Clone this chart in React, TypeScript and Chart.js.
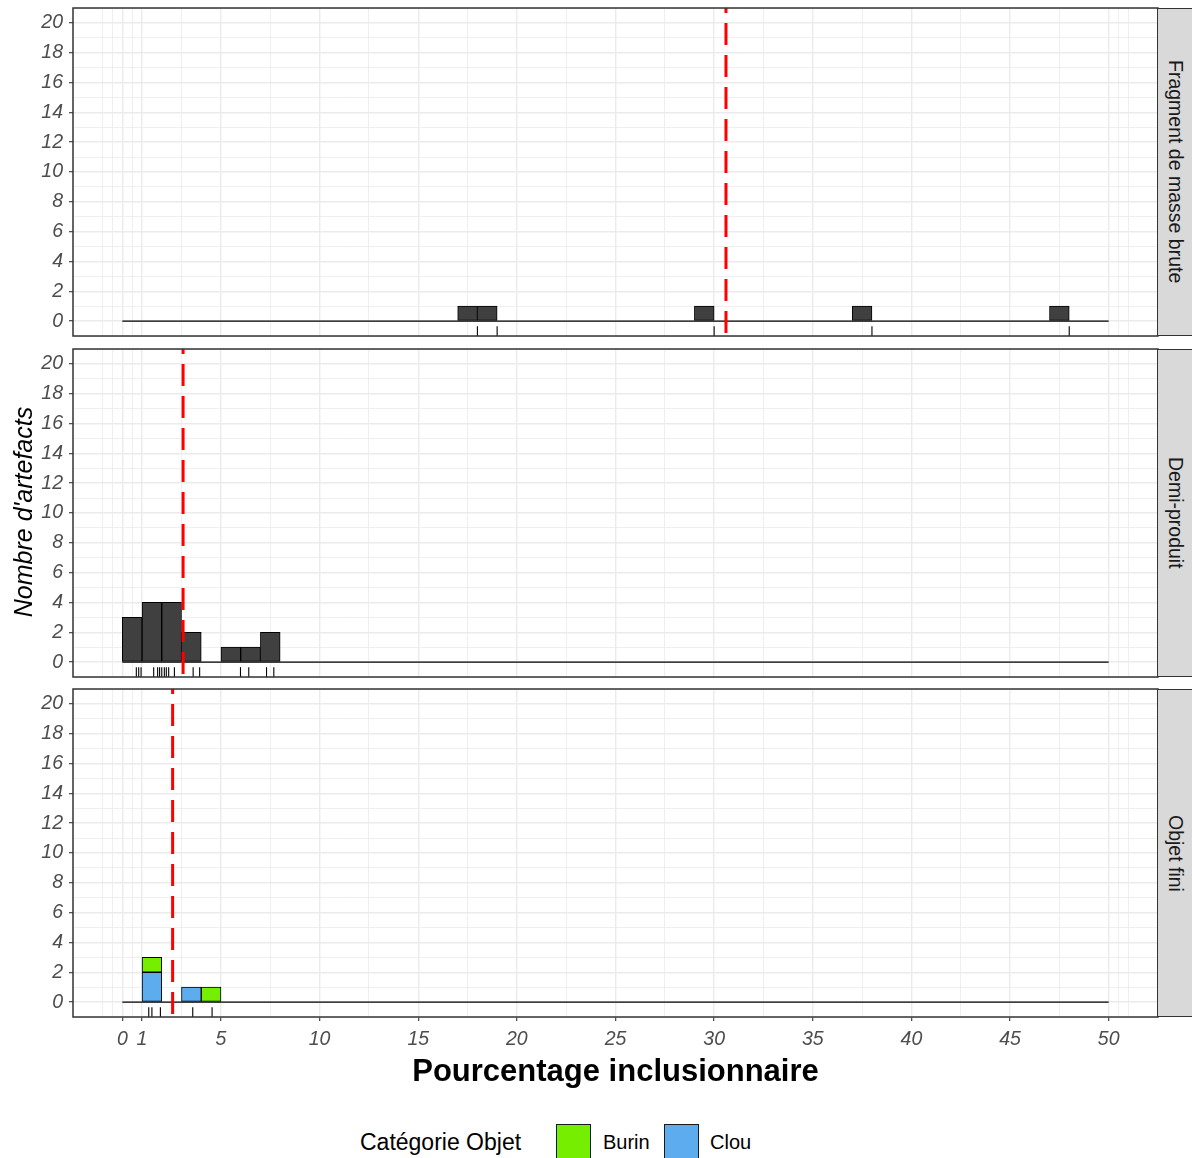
import React, { useEffect, useRef } from "react";
import { Chart, registerables } from "chart.js";

Chart.register(...registerables);

const FONT = "'Liberation Sans', Arial, Helvetica, sans-serif";

// ---- axis breaks / tick labels ----
const xMajorBreaks = [0, 1, 5, 10, 15, 20, 25, 30, 35, 40, 45, 50];
const xMinorBreaks = [-1, -0.5, 0.5, 3, 7.5, 12.5, 17.5, 22.5, 27.5, 32.5, 37.5, 42.5, 47.5, 50.5, 51];
const yMajorBreaks = [0, 2, 4, 6, 8, 10, 12, 14, 16, 18, 20];
const yMinorBreaks = [-1, 1, 3, 5, 7, 9, 11, 13, 15, 17, 19, 21];

const panelNames = ["Fragment de masse brute", "Demi-produit", "Objet fini"];
const legendCategories = ["Burin", "Clou"];

// ---- histogram settings ----
const BIN_WIDTH = 1;
const HIST_RANGE = [0, 50];

// ---- Fragment de masse brute ----
const fragmentBinStarts = [17, 18, 29, 37, 47];
const fragmentCounts = [1, 1, 1, 1, 1];
const fragmentValues = [18, 19, 30, 38, 48];

// ---- Demi-produit ----
const demiBinStarts = [0, 1, 2, 3, 5, 6, 7];
const demiCounts = [3, 4, 4, 2, 1, 1, 2];
const demiValues = [0.71, 0.83, 0.95, 1.59, 1.79, 1.89, 2.0, 2.13, 2.23, 2.35, 2.64, 3.59, 3.92, 5.99, 6.41, 7.31, 7.68];

// ---- Objet fini ----
const clouBinStarts = [1, 3];
const clouCounts = [2, 1];
const burinBinStarts = [1, 4];
const burinCounts = [1, 1];
const objetValues = [1.34, 1.5, 1.93, 3.57, 4.55];

// ---- mean (red dashed) lines, one per panel ----
const meanLines = [30.6, 3.08, 2.55];

const COLOR_DARK = "#404040";
const COLOR_BURIN = "#76EE00";
const COLOR_CLOU = "#5CACEE";

const X_MIN = -2.5;
const X_MAX = 52.5;
const Y_MIN = -1;
const Y_MAX = 21;
const RUG_FRACTION = 0.03;

const xMajorSet = new Set(xMajorBreaks);
const yMajorSet = new Set(yMajorBreaks);

type BarSeries = { label: string; bins: number[]; counts: number[]; color: string };

const panelSpecs: { bars: BarSeries[]; rug: number[]; mean: number }[] = [
  { bars: [{ label: "Fragment", bins: fragmentBinStarts, counts: fragmentCounts, color: COLOR_DARK }], rug: fragmentValues, mean: meanLines[0] },
  { bars: [{ label: "Demi", bins: demiBinStarts, counts: demiCounts, color: COLOR_DARK }], rug: demiValues, mean: meanLines[1] },
  {
    bars: [
      { label: "Clou", bins: clouBinStarts, counts: clouCounts, color: COLOR_CLOU },
      { label: "Burin", bins: burinBinStarts, counts: burinCounts, color: COLOR_BURIN },
    ],
    rug: objetValues,
    mean: meanLines[2],
  },
];

const panelBorder = {
  id: "panelBorder",
  afterDraw(chart: any) {
    const { ctx, chartArea: a } = chart;
    ctx.save();
    ctx.strokeStyle = "#333333";
    ctx.lineWidth = 1.5;
    ctx.strokeRect(a.left, a.top, a.right - a.left, a.bottom - a.top);
    ctx.restore();
  },
};

const PANELS = [
  { top: 8, bottom: 336 },
  { top: 349, bottom: 677 },
  { top: 689, bottom: 1017 },
];
const PANEL_LEFT = 73;
const PANEL_RIGHT = 1158;
const PAD = 10;
const X_AXIS_H = 50;
const CANVAS_W = PANEL_RIGHT + PAD;

const zeroPadding = (s: any) => {
  s.paddingTop = 0;
  s.paddingBottom = 0;
  s.paddingLeft = 0;
  s.paddingRight = 0;
};

function Panel({ index }: { index: number }) {
  const ref = useRef<HTMLCanvasElement>(null);
  const showX = index === PANELS.length - 1;
  const p = PANELS[index];
  const h = PAD + (p.bottom - p.top) + (showX ? X_AXIS_H : PAD);

  useEffect(() => {
    const spec = panelSpecs[index];
    const rugY = Y_MIN + (RUG_FRACTION * (Y_MAX - Y_MIN)) / 2;
    const datasets: any[] = [];
    datasets.push({
      type: "line",
      label: "mean",
      data: [
        { x: spec.mean, y: Y_MIN },
        { x: spec.mean, y: Y_MAX },
      ],
      borderColor: "#FF0000",
      borderWidth: 3,
      borderDash: [22, 10],
      borderDashOffset: 29,
      pointRadius: 0,
      xAxisID: "x",
      yAxisID: "y",
      order: 0,
      stack: "mean",
    });
    datasets.push({
      type: "scatter",
      label: "rug",
      data: spec.rug.map((v) => ({ x: v, y: rugY })),
      pointStyle: "line",
      pointRotation: 90,
      pointRadius: 4.9,
      pointHoverRadius: 4.9,
      pointBorderWidth: 1.1,
      pointBorderColor: "#000000",
      pointBackgroundColor: "#000000",
      showLine: false,
      xAxisID: "x",
      yAxisID: "y",
      order: 1,
      stack: "rug",
    });
    spec.bars.forEach((s) => {
      datasets.push({
        type: "bar",
        label: s.label,
        data: s.bins.map((b, i) => ({ x: b + BIN_WIDTH / 2, y: s.counts[i] })),
        backgroundColor: s.color,
        borderColor: "#000000",
        borderWidth: 1,
        borderSkipped: false,
        barPercentage: 1,
        categoryPercentage: 1,
        grouped: false,
        xAxisID: "xb",
        yAxisID: "y",
        order: 2,
        stack: "hist",
      });
    });
    datasets.push({
      type: "line",
      label: "base",
      data: [
        { x: HIST_RANGE[0], y: 0 },
        { x: HIST_RANGE[1], y: 0 },
      ],
      borderColor: "#000000",
      borderWidth: 1.2,
      pointRadius: 0,
      xAxisID: "x",
      yAxisID: "y",
      order: 3,
      stack: "base",
    });

    const binEdges: number[] = [];
    for (let v = HIST_RANGE[0]; v <= HIST_RANGE[1]; v += BIN_WIDTH) binEdges.push(v);

    const xTicks = [...xMinorBreaks, ...xMajorBreaks].sort((a, b) => a - b);
    const yTicks = [...yMinorBreaks, ...yMajorBreaks].sort((a, b) => a - b);

    const tickFont = { family: FONT, size: 19.5, style: "italic" as const };

    const chart = new Chart(ref.current as HTMLCanvasElement, {
      type: "bar",
      data: { datasets },
      options: {
        animation: false,
        responsive: false,
        events: [],
        layout: { padding: { top: PAD, bottom: showX ? 0 : PAD, left: 0, right: PAD } },
        plugins: { legend: { display: false }, tooltip: { enabled: false } },
        scales: {
          xb: {
            type: "linear",
            display: true,
            position: "bottom",
            offset: false,
            min: X_MIN,
            max: X_MAX,
            stacked: true,
            afterBuildTicks: (s: any) => {
              s.ticks = binEdges.map((v) => ({ value: v }));
            },
            afterFit: (s: any) => {
              s.height = 0;
              zeroPadding(s);
            },
            ticks: { display: false, autoSkip: false },
            grid: { display: false, drawTicks: false, offset: false },
            border: { display: false },
          },
          x: {
            type: "linear",
            position: "bottom",
            offset: false,
            min: X_MIN,
            max: X_MAX,
            afterBuildTicks: (s: any) => {
              s.ticks = xTicks.map((v) => ({ value: v }));
            },
            afterFit: (s: any) => {
              s.height = showX ? X_AXIS_H : 0;
              zeroPadding(s);
            },
            ticks: {
              display: showX,
              autoSkip: false,
              maxRotation: 0,
              minRotation: 0,
              padding: 7,
              color: "#4D4D4D",
              font: tickFont,
              callback: (v: any) => (xMajorSet.has(Number(v)) ? String(v) : ""),
            },
            grid: {
              offset: false,
              color: "#EBEBEB",
              lineWidth: (c: any) => (c.tick && xMajorSet.has(c.tick.value) ? 1.4 : 0.8),
              drawTicks: showX,
              tickLength: 4,
              tickWidth: 1.1,
              tickColor: (c: any) => (c.tick && xMajorSet.has(c.tick.value) ? "#333333" : "rgba(0,0,0,0)"),
            },
            border: { display: false },
          },
          y: {
            type: "linear",
            min: Y_MIN,
            max: Y_MAX,
            stacked: true,
            afterBuildTicks: (s: any) => {
              s.ticks = yTicks.map((v) => ({ value: v }));
            },
            afterFit: (s: any) => {
              s.width = PANEL_LEFT;
              zeroPadding(s);
            },
            ticks: {
              autoSkip: false,
              padding: 6,
              color: "#4D4D4D",
              font: tickFont,
              callback: (v: any) => (yMajorSet.has(Number(v)) ? String(v) : ""),
            },
            grid: {
              color: "#EBEBEB",
              lineWidth: (c: any) => (c.tick && yMajorSet.has(c.tick.value) ? 1.4 : 0.8),
              drawTicks: true,
              tickLength: 4,
              tickWidth: 1.1,
              tickColor: (c: any) => (c.tick && yMajorSet.has(c.tick.value) ? "#333333" : "rgba(0,0,0,0)"),
            },
            border: { display: false },
          },
        },
      } as any,
      plugins: [panelBorder],
    });
    return () => chart.destroy();
  }, [index]);

  return (
    <canvas
      ref={ref}
      width={CANVAS_W}
      height={h}
      style={{ position: "absolute", left: 0, top: p.top - PAD, width: CANVAS_W, height: h }}
    />
  );
}

export default function App() {
  return (
    <div
      style={{
        position: "absolute",
        left: 0,
        top: 0,
        width: 1192,
        height: 1158,
        overflow: "hidden",
        background: "#FFFFFF",
        fontFamily: FONT,
      }}
    >
      {PANELS.map((p, i) => (
        <React.Fragment key={i}>
          <Panel index={i} />
          <div
            style={{
              position: "absolute",
              left: PANEL_RIGHT - 1,
              top: p.top,
              width: 37,
              height: p.bottom - p.top,
              boxSizing: "border-box",
              background: "#D9D9D9",
              border: "1.5px solid #333333",
              display: "flex",
              alignItems: "center",
              justifyContent: "center",
              writingMode: "vertical-rl",
              fontSize: 19.5,
              color: "#1A1A1A",
              whiteSpace: "nowrap",
            }}
          >
            {panelNames[i]}
          </div>
        </React.Fragment>
      ))}
      <div
        style={{
          position: "absolute",
          left: 23 - 200,
          top: 512 - 16,
          width: 400,
          height: 32,
          lineHeight: "32px",
          textAlign: "center",
          transform: "rotate(-90deg)",
          fontStyle: "italic",
          fontSize: 25,
          color: "#000000",
          whiteSpace: "nowrap",
        }}
      >
        Nombre d'artefacts
      </div>
      <div
        style={{
          position: "absolute",
          left: PANEL_LEFT,
          top: 1071 - 18,
          width: PANEL_RIGHT - PANEL_LEFT,
          height: 36,
          lineHeight: "36px",
          textAlign: "center",
          fontWeight: "bold",
          fontSize: 31,
          color: "#000000",
          whiteSpace: "nowrap",
        }}
      >
        Pourcentage inclusionnaire
      </div>
      <div
        style={{
          position: "absolute",
          left: 360,
          top: 1142 - 15,
          height: 30,
          lineHeight: "30px",
          fontSize: 23,
          color: "#000000",
          whiteSpace: "nowrap",
        }}
      >
        Catégorie Objet
      </div>
      {legendCategories.map((c, i) => (
        <React.Fragment key={c}>
          <div
            style={{
              position: "absolute",
              left: i === 0 ? 556 : 664,
              top: 1124,
              width: 35,
              height: 36,
              boxSizing: "border-box",
              background: c === "Burin" ? COLOR_BURIN : COLOR_CLOU,
              border: "1.5px solid #1A1A1A",
            }}
          />
          <div
            style={{
              position: "absolute",
              left: i === 0 ? 603 : 710,
              top: 1142 - 14,
              height: 28,
              lineHeight: "28px",
              fontSize: 20,
              color: "#000000",
              whiteSpace: "nowrap",
            }}
          >
            {c}
          </div>
        </React.Fragment>
      ))}
    </div>
  );
}
